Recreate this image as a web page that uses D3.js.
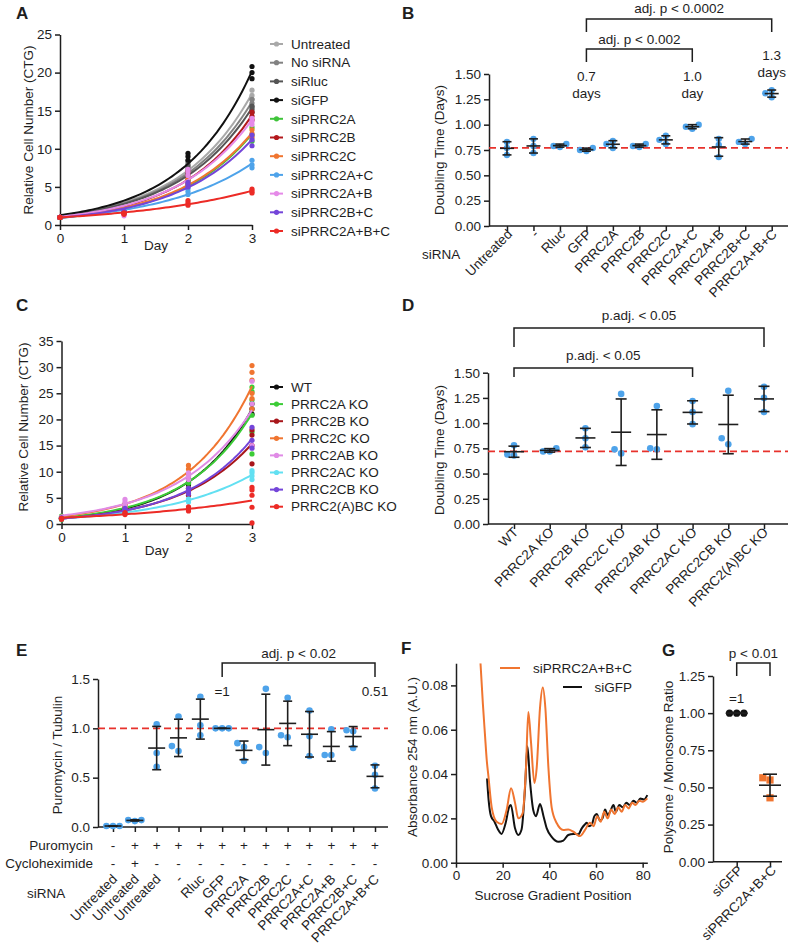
<!DOCTYPE html>
<html>
<head>
<meta charset="utf-8">
<script src="https://cdn.jsdelivr.net/npm/d3@7"></script>
<style>
  body { margin: 0; background: #fff; }
  text { font-family: "Liberation Sans", Arial, Helvetica, sans-serif; fill: #1e1e1e; }
</style>
</head>
<body>
<div id="drawing"></div>
<script>
const width = 794;
const height = 951;
const FONT = '"Liberation Sans", Arial, Helvetica, sans-serif';
const INK = "#1e1e1e";
const FS = 13.5;

// ---------- A : growth curves, siRNA ----------
const aNames = ["Untreated", "No siRNA", "siRluc", "siGFP", "siPRRC2A", "siPRRC2B", "siPRRC2C",
  "siPRRC2A+C", "siPRRC2A+B", "siPRRC2B+C", "siPRRC2A+B+C"];
const aColors = ["#a9a9a9", "#828282", "#555555", "#111111", "#3fc43a", "#b3191c", "#f07530",
  "#4ea3ea", "#e58ae8", "#7445d9", "#ec2b26"];
const aDays = [0, 1, 2, 3];
const aDay0 = [[1, 1, 1], [1, 1, 1], [1, 1, 1], [1, 1, 1], [1, 1, 1], [1, 1, 1], [1, 1, 1], [1, 1, 1], [1, 1, 1], [1, 1, 1], [1, 1, 1]];
const aDay1 = [[2.0, 2.1, 2.2], [2.0, 2.1, 2.2], [1.9, 2.0, 2.1], [2.1, 2.2, 2.3], [1.5, 1.7, 1.8], [1.7, 1.8, 1.9],
  [1.7, 1.8, 1.9], [1.5, 1.6, 1.7], [1.2, 1.4, 1.6], [1.6, 1.7, 1.8], [1.4, 1.5, 1.6]];
const aDay2 = [[7.5, 8.0, 8.5], [7.0, 7.5, 8.2], [6.8, 7.2, 7.8], [8.5, 9.0, 9.4], [5.2, 5.5, 5.8], [6.0, 6.5, 7.0],
  [5.3, 5.6, 6.0], [4.0, 4.4, 4.8], [6.5, 7.0, 7.3], [5.0, 5.3, 5.6], [2.6, 2.9, 3.2]];
const aDay3 = [[16.5, 17.0, 17.7], [15.5, 16.0, 16.5], [14.8, 15.2, 15.6], [19.2, 20.0, 20.8], [11.0, 11.8, 12.8],
  [13.8, 14.3, 14.8], [11.5, 12.0, 12.5], [7.5, 7.9, 8.5], [13.2, 13.6, 14.0], [10.4, 11.2, 11.8], [4.2, 4.4, 4.7]];
const aTicks = [0, 5, 10, 15, 20, 25];

// ---------- B : doubling time, siRNA ----------
const bCats = ["Untreated", "-", "Rluc", "GFP", "PRRC2A", "PRRC2B", "PRRC2C", "PRRC2A+C", "PRRC2A+B", "PRRC2B+C", "PRRC2A+B+C"];
const bVals = [[0.70, 0.77, 0.83], [0.72, 0.79, 0.86], [0.78, 0.79, 0.81], [0.74, 0.75, 0.77], [0.77, 0.81, 0.84],
  [0.78, 0.79, 0.81], [0.81, 0.85, 0.89], [0.96, 0.98, 1.00], [0.68, 0.80, 0.86], [0.81, 0.83, 0.86], [1.27, 1.31, 1.34]];
const bRef = 0.77;
const bTicks = [0, 0.25, 0.5, 0.75, 1.0, 1.25, 1.5];

// ---------- C : growth curves, knockouts ----------
const cNames = ["WT", "PRRC2A KO", "PRRC2B KO", "PRRC2C KO", "PRRC2AB KO", "PRRC2AC KO", "PRRC2CB KO", "PRRC2(A)BC KO"];
const cColors = ["#111111", "#3ccc37", "#a8161b", "#f07530", "#e08be6", "#62e0f2", "#7445d9", "#ec2b26"];
const cDay0 = [[1.0, 1.1, 1.2], [0.8, 1.2, 1.5], [1.0, 1.1, 1.2], [1.0, 1.2, 1.3], [1.0, 1.1, 1.3], [0.9, 1.0, 1.1], [1.0, 1.1, 1.2], [0.9, 1.0, 1.1]];
const cDay1 = [[2.8, 3.0, 3.2], [2.8, 3.3, 3.8], [2.5, 2.8, 3.0], [3.2, 3.5, 3.8], [3.5, 4.2, 4.7], [2.0, 2.3, 2.6], [2.5, 2.8, 3.0], [1.8, 2.0, 2.2]];
const cDay2 = [[7.5, 8.0, 8.5], [6.8, 7.8, 9.2], [5.5, 6.2, 6.8], [9.5, 10.5, 11.2], [8.5, 9.2, 9.8], [4.2, 4.5, 4.8], [5.8, 6.3, 6.8], [2.5, 3.0, 3.3]];
const cDay3 = [[21, 22, 23], [13.4, 17.6, 20.8, 23.7, 25.3, 26.2], [11.5, 15, 17, 18], [22, 24, 25, 27.5, 29, 30.3],
  [15, 23, 27.3], [8.5, 9.2, 9.8, 10.2], [14.5, 16, 18.5], [0.2, 3.2, 5.5, 6.5, 7]];
const cTicks = [0, 5, 10, 15, 20, 25, 30, 35];

// ---------- D : doubling time, knockouts ----------
const dCats = ["WT", "PRRC2A KO", "PRRC2B KO", "PRRC2C KO", "PRRC2AB KO", "PRRC2AC KO", "PRRC2CB KO", "PRRC2(A)BC KO"];
const dVals = [[0.68, 0.69, 0.78], [0.72, 0.72, 0.75], [0.76, 0.85, 0.95], [0.70, 0.74, 1.29], [0.74, 0.75, 1.17],
  [0.99, 1.11, 1.22], [0.79, 0.85, 1.32], [1.11, 1.25, 1.36]];
const dRef = 0.72;

// ---------- E : puromycin incorporation ----------
const eCats = ["Untreated", "Untreated", "Untreated", "-", "Rluc", "GFP", "PRRC2A", "PRRC2B", "PRRC2C",
  "PRRC2A+C", "PRRC2A+B", "PRRC2B+C", "PRRC2A+B+C"];
const ePuro = ["-", "+", "+", "+", "+", "+", "+", "+", "+", "+", "+", "+", "+"];
const eChx = ["-", "+", "-", "-", "-", "-", "-", "-", "-", "-", "-", "-", "-"];
const eVals = [[0.01, 0.01, 0.01], [0.06, 0.07, 0.07], [0.61, 0.75, 1.04], [0.77, 0.82, 1.12], [0.93, 1.03, 1.32],
  [1.0, 1.0, 1.0], [0.67, 0.81, 0.85], [0.75, 0.81, 1.40], [0.91, 0.93, 1.31], [0.72, 0.92, 1.18],
  [0.73, 0.73, 0.99], [0.80, 0.97, 0.98], [0.39, 0.53, 0.62]];
const eRef = 1.0;
const eTicks = [0, 0.5, 1.0, 1.5];

// ---------- F : polysome profiles ----------
const fOrangePos = [10.5, 11.5, 12.4, 13.2, 13.9, 15.3, 17.4, 19.6, 21.7, 23.6, 25.3, 26.7, 28.6, 30.0, 31.0, 32.1,
  33.6, 34.6, 36.0, 37.2, 38.3, 39.6, 41.0, 43.2, 46.0, 48.1, 50.3, 53.1, 55.3, 57.4, 59, 60.5, 62, 63.5, 65,
  66.5, 68, 69.5, 71, 72.5, 74, 75.5, 77, 78.5, 80, 82];
const fOrangeVal = [0.090, 0.072, 0.058, 0.046, 0.039, 0.025, 0.0185, 0.0175, 0.0238, 0.0336, 0.027, 0.020, 0.0224,
  0.043, 0.068, 0.055, 0.036, 0.043, 0.0698, 0.079, 0.0698, 0.043, 0.025, 0.0178, 0.0148, 0.015, 0.014, 0.012,
  0.0148, 0.018, 0.0165, 0.021, 0.0185, 0.023, 0.020, 0.024, 0.022, 0.025, 0.023, 0.026, 0.0245, 0.027, 0.026,
  0.028, 0.0275, 0.029];
const fBlackPos = [13.3, 14.0, 15.0, 16.5, 18.0, 19.5, 21.3, 22.9, 23.5, 25.3, 26.7, 28.1, 29.6, 30.6, 31.7, 33.1,
  34.3, 36.0, 37.5, 38.9, 41.0, 43.9, 46.0, 48.1, 50.3, 52.4, 53.9, 55.0, 56.0, 57.0, 58.1, 59.3, 60.3, 61.7,
  62.8, 63.9, 65, 66, 67.5, 68.5, 70, 71.5, 73, 74.5, 76, 77.5, 79, 80.5, 82];
const fBlackVal = [0.038, 0.028, 0.021, 0.0185, 0.015, 0.013, 0.018, 0.0255, 0.026, 0.0155, 0.0125, 0.015, 0.034,
  0.0525, 0.037, 0.0238, 0.021, 0.0265, 0.021, 0.0155, 0.0117, 0.0095, 0.010, 0.0125, 0.013, 0.0128, 0.0155,
  0.017, 0.018, 0.0165, 0.017, 0.021, 0.022, 0.019, 0.020, 0.024, 0.0215, 0.023, 0.026, 0.023, 0.026, 0.025,
  0.027, 0.026, 0.028, 0.027, 0.029, 0.0285, 0.0305];
const fXTicks = [0, 20, 40, 60, 80];
const fYTicks = [0, 0.02, 0.04, 0.06, 0.08];

// ---------- G : polysome / monosome ratio ----------
const gCats = ["siGFP", "siPRRC2A+B+C"];
const gVals = [[1.0, 1.0, 1.0], [0.43, 0.55, 0.565]];
const gTicks = [0, 0.25, 0.5, 0.75, 1.0, 1.25];

const blue = "#4ea3ea";
const orange = "#f07530";
const redDash = "#e8322c";

let svg;

function setup() {
  svg = d3.select("#drawing").append("svg")
    .attr("width", width)
    .attr("height", height)
    .style("background", "#fff");
}

// ---- small helpers ----
function txt(x, y, s, anchor = "middle", size = FS, weight = "normal") {
  return svg.append("text")
    .attr("x", x).attr("y", y)
    .attr("dy", "0.35em")
    .attr("text-anchor", anchor)
    .attr("font-size", size)
    .attr("font-weight", weight)
    .text(s);
}

function panelLetter(x, y, s) {
  svg.append("text").attr("x", x).attr("y", y)
    .attr("font-size", 17).attr("font-weight", "bold").text(s);
}

function yTitle(x, y, s) {
  svg.append("text")
    .attr("transform", `translate(${x},${y}) rotate(-90)`)
    .attr("dy", "0.35em")
    .attr("text-anchor", "middle")
    .attr("font-size", FS)
    .text(s);
}

function styleAxis(g) {
  g.attr("font-family", FONT).attr("font-size", FS);
  g.selectAll("path, line").attr("stroke", INK).attr("stroke-width", 1.5);
  g.selectAll("text").attr("fill", INK);
}

function hline(x1, x2, y) {
  svg.append("line").attr("x1", x1).attr("x2", x2).attr("y1", y).attr("y2", y)
    .attr("stroke", INK).attr("stroke-width", 1.5);
}

function bracket(xa, xb, yLine, yEnd, label, yText) {
  svg.append("path")
    .attr("d", `M${xa},${yEnd}V${yLine}H${xb}V${yEnd}`)
    .attr("fill", "none").attr("stroke", INK).attr("stroke-width", 1.5);
  txt((xa + xb) / 2, yText, label);
}

// spread overlapping dots sideways, like Prism scatter
function swarm(vals, y, r) {
  const placed = [];
  const order = vals.slice().sort((a, b) => a - b);
  order.forEach(v => {
    const py = y(v);
    const cands = [0, -2 * r, 2 * r, -4 * r, 4 * r];
    let dx = 0;
    for (const c of cands) {
      if (placed.every(q => Math.hypot(q.dx - c, q.py - py) >= 2 * r - 0.5)) { dx = c; break; }
    }
    placed.push({ v, dx, py });
  });
  return placed;
}

// exponential growth fit y = y0 * exp(k t), least squares on the raw values
function fitExp(pts) {
  let best = { sse: Infinity, k: 0, y0: 1 };
  for (let k = 0; k <= 2; k += 0.001) {
    let a = 0, b = 0;
    pts.forEach(p => { const e = Math.exp(k * p.t); a += p.v * e; b += e * e; });
    const y0 = a / b;
    let sse = 0;
    pts.forEach(p => { const d = y0 * Math.exp(k * p.t) - p.v; sse += d * d; });
    if (sse < best.sse) best = { sse, k, y0 };
  }
  return best;
}

// ---- growth curve panels (A, C) ----
function growthPanel(o) {
  const x = d3.scaleLinear().domain([0, 3]).range([o.x0, o.x1]);
  const y = d3.scaleLinear().domain([0, o.yMax]).range([o.yB, o.yT]);

  svg.append("g").attr("transform", `translate(0,${o.yB})`)
    .call(d3.axisBottom(x).tickValues(aDays).tickFormat(d3.format("d")).tickSize(5).tickSizeOuter(0))
    .call(styleAxis);
  svg.append("g").attr("transform", `translate(${o.x0},0)`)
    .call(d3.axisLeft(y).tickValues(o.ticks).tickSize(5).tickSizeOuter(0))
    .call(styleAxis);

  const tGrid = d3.range(0, 3.0001, 0.05);
  const line = d3.line().x(d => x(d.t)).y(d => y(d.v));

  o.names.forEach((name, i) => {
    const pts = [];
    o.reps.forEach((day, t) => day[i].forEach(v => pts.push({ t: aDays[t], v })));
    const fit = fitExp(pts);
    const curve = tGrid.map(t => ({ t, v: fit.y0 * Math.exp(fit.k * t) }));

    svg.append("g").selectAll("circle")
      .data(pts).enter().append("circle")
      .attr("cx", d => x(d.t)).attr("cy", d => y(d.v))
      .attr("r", 2.6).attr("fill", o.colors[i]);

    svg.append("path").datum(curve)
      .attr("d", line).attr("fill", "none")
      .attr("stroke", o.colors[i]).attr("stroke-width", 2);

    // legend row
    const ly = o.legY + i * o.legDy;
    svg.append("line").attr("x1", o.legX).attr("x2", o.legX + 13).attr("y1", ly).attr("y2", ly)
      .attr("stroke", o.colors[i]).attr("stroke-width", 2);
    svg.append("circle").attr("cx", o.legX + 6.5).attr("cy", ly).attr("r", 2.6).attr("fill", o.colors[i]);
    txt(o.legX + 21, ly, name, "start");
  });

  txt((o.x0 + o.x1) / 2, o.dayY, "Day");
  yTitle(o.titleX, o.titleY, "Relative Cell Number (CTG)");
}

// ---- dot + mean/SD panels (B, D, E, G) ----
function dotPanel(o) {
  const idx = d3.range(o.cats.length);
  const x = d3.scalePoint().domain(idx).range([o.x0, o.x1]);
  const y = d3.scaleLinear().domain([0, o.yMax]).range([o.yB, o.yT]);

  svg.append("g").attr("transform", `translate(${o.axisL},0)`)
    .call(d3.axisLeft(y).tickValues(o.ticks).tickFormat(d3.format(o.fmt)).tickSize(5).tickSizeOuter(0))
    .call(styleAxis);
  const gx = svg.append("g").attr("transform", `translate(0,${o.yB})`)
    .call(d3.axisBottom(x).tickSize(5).tickSizeOuter(0).tickFormat(""))
    .call(styleAxis);
  gx.select(".domain").remove();
  hline(o.axisL, o.axisR, o.yB);

  if (o.ref != null) {
    svg.append("line")
      .attr("x1", o.axisL).attr("x2", o.axisR)
      .attr("y1", y(o.ref)).attr("y2", y(o.ref))
      .attr("stroke", redDash).attr("stroke-width", 1.8)
      .attr("stroke-dasharray", "7,4");
  }

  idx.forEach(i => {
    const vals = o.vals[i];
    const cx = x(i);
    const col = o.colors ? o.colors[i] : blue;
    const shape = o.shapes ? o.shapes[i] : "circle";
    const dots = swarm(vals, y, o.r);

    if (shape === "square") {
      svg.append("g").selectAll("rect").data(dots).enter().append("rect")
        .attr("x", d => cx + d.dx - o.r).attr("y", d => d.py - o.r)
        .attr("width", 2 * o.r).attr("height", 2 * o.r).attr("fill", col);
    } else {
      svg.append("g").selectAll("circle").data(dots).enter().append("circle")
        .attr("cx", d => cx + d.dx).attr("cy", d => d.py)
        .attr("r", o.r).attr("fill", col);
    }

    const m = d3.mean(vals);
    const sd = d3.deviation(vals) || 0;
    const eb = svg.append("g").attr("stroke", INK).attr("stroke-width", 1.6);
    eb.append("line").attr("x1", cx).attr("x2", cx).attr("y1", y(m - sd)).attr("y2", y(m + sd));
    eb.append("line").attr("x1", cx - o.capHalf).attr("x2", cx + o.capHalf).attr("y1", y(m - sd)).attr("y2", y(m - sd));
    eb.append("line").attr("x1", cx - o.capHalf).attr("x2", cx + o.capHalf).attr("y1", y(m + sd)).attr("y2", y(m + sd));
    eb.append("line").attr("x1", cx - o.meanHalf).attr("x2", cx + o.meanHalf).attr("y1", y(m)).attr("y2", y(m));
  });

  // rotated category labels
  if (o.labelY != null) {
    idx.forEach(i => {
      svg.append("text")
        .attr("transform", `translate(${x(i) + o.labelDx},${o.labelY}) rotate(-45)`)
        .attr("text-anchor", "end")
        .attr("font-size", FS)
        .text(o.cats[i]);
    });
  }
  return { x, y };
}

function make() {
  // ===== A =====
  panelLetter(16, 19, "A");
  growthPanel({
    names: aNames, colors: aColors, reps: [aDay0, aDay1, aDay2, aDay3],
    x0: 60, x1: 252, yB: 225, yT: 34.5, yMax: 25, ticks: aTicks,
    legX: 270, legY: 44, legDy: 18.7, dayY: 245, titleX: 28, titleY: 130
  });

  // ===== B =====
  panelLetter(402, 19, "B");
  const b = dotPanel({
    cats: bCats, vals: bVals, x0: 507, x1: 771.7, axisL: 489, axisR: 788,
    yB: 226, yT: 74, yMax: 1.5, ticks: bTicks, fmt: ".2f", ref: bRef,
    r: 3.2, meanHalf: 7, capHalf: 4.5, labelY: 235, labelDx: 6
  });
  yTitle(439, 150, "Doubling Time (Days)");
  txt(422, 254, "siRNA", "start");
  bracket(b.x(3), b.x(10), 19, 32, "adj. p < 0.0002", 8);
  bracket(b.x(3), b.x(7), 49, 62, "adj. p < 0.002", 39);
  txt(b.x(3), 76, "0.7"); txt(b.x(3), 93, "days");
  txt(b.x(7), 76, "1.0"); txt(b.x(7), 93, "day");
  txt(b.x(10), 55, "1.3"); txt(b.x(10), 72, "days");

  // ===== C =====
  panelLetter(16, 311, "C");
  growthPanel({
    names: cNames, colors: cColors, reps: [cDay0, cDay1, cDay2, cDay3],
    x0: 61.5, x1: 252, yB: 524, yT: 341, yMax: 35, ticks: cTicks,
    legX: 270, legY: 387, legDy: 17.1, dayY: 550, titleX: 23, titleY: 427
  });

  // ===== D =====
  panelLetter(402, 311, "D");
  const dd = dotPanel({
    cats: dCats, vals: dVals, x0: 514, x1: 764, axisL: 488, axisR: 788,
    yB: 524, yT: 372.7, yMax: 1.5, ticks: bTicks, fmt: ".2f", ref: dRef,
    r: 3.3, meanHalf: 10, capHalf: 5.5, labelY: 533, labelDx: 5
  });
  yTitle(439, 450, "Doubling Time (Days)");
  bracket(dd.x(0), dd.x(7), 328, 347, "p.adj. < 0.05", 315);
  bracket(dd.x(0), dd.x(5), 368, 377, "p.adj. < 0.05", 355);

  // ===== E =====
  panelLetter(16, 656, "E");
  const e = dotPanel({
    cats: eCats, vals: eVals, x0: 113, x1: 375, axisL: 98, axisR: 388,
    yB: 827, yT: 679, yMax: 1.5, ticks: eTicks, fmt: ".1f", ref: eRef,
    r: 3.3, meanHalf: 8.5, capHalf: 4.5, labelY: 880, labelDx: 5
  });
  yTitle(57, 755, "Puromycin / Tubulin");
  txt(93, 845, "Puromycin", "end");
  txt(93, 863, "Cycloheximide", "end");
  txt(27, 893, "siRNA", "start");
  ePuro.forEach((s, i) => txt(e.x(i), 845, s));
  eChx.forEach((s, i) => txt(e.x(i), 863, s));
  bracket(e.x(5), e.x(12), 663, 677, "adj. p < 0.02", 653);
  txt(e.x(5), 691, "=1");
  txt(e.x(12), 691, "0.51");

  // ===== F =====
  panelLetter(401, 654, "F");
  const fx = d3.scaleLinear().domain([0, 82]).range([456, 456 + 82 * 2.3333]);
  const fy = d3.scaleLinear().domain([0, 0.09]).range([862.7, 862.7 - 0.09 * 2216.3]);
  svg.append("g").attr("transform", "translate(0,862.7)")
    .call(d3.axisBottom(fx).tickValues(fXTicks).tickSize(5).tickSizeOuter(0))
    .call(styleAxis);
  svg.append("g").attr("transform", "translate(456,0)")
    .call(d3.axisLeft(fy).tickValues(fYTicks).tickFormat(d3.format(".2f")).tickSize(5).tickSizeOuter(0))
    .call(styleAxis);
  svg.append("clipPath").attr("id", "fclip").append("rect")
    .attr("x", 456).attr("y", fy(0.09)).attr("width", 200).attr("height", 862.7 - fy(0.09));
  const fLine = d3.line().x(d => fx(d[0])).y(d => fy(d[1])).curve(d3.curveMonotoneX);
  svg.append("path").datum(d3.zip(fBlackPos, fBlackVal))
    .attr("d", fLine).attr("fill", "none").attr("stroke", "#111").attr("stroke-width", 2)
    .attr("clip-path", "url(#fclip)");
  svg.append("path").datum(d3.zip(fOrangePos, fOrangeVal))
    .attr("d", fLine).attr("fill", "none").attr("stroke", orange).attr("stroke-width", 2)
    .attr("clip-path", "url(#fclip)");
  svg.append("line").attr("x1", 500).attr("x2", 520).attr("y1", 668).attr("y2", 668)
    .attr("stroke", orange).attr("stroke-width", 2);
  txt(632, 668, "siPRRC2A+B+C", "end");
  svg.append("line").attr("x1", 563).attr("x2", 582).attr("y1", 687).attr("y2", 687)
    .attr("stroke", "#111").attr("stroke-width", 2);
  txt(632, 687, "siGFP", "end");
  txt(553, 895, "Sucrose Gradient Position");
  yTitle(412, 757, "Absorbance 254 nm (A.U.)");

  // ===== G =====
  panelLetter(662, 656, "G");
  const g = dotPanel({
    cats: gCats, vals: gVals, x0: 736.7, x1: 770, axisL: 713, axisR: 782,
    yB: 861.7, yT: 676, yMax: 1.25, ticks: gTicks, fmt: ".2f", ref: null,
    colors: ["#111111", orange], shapes: ["circle", "square"],
    r: 3.6, meanHalf: 11, capHalf: 7, labelY: 871, labelDx: 7
  });
  yTitle(668, 767, "Polysome / Monosome Ratio");
  bracket(g.x(0), g.x(1), 663, 676, "p < 0.01", 653);
  txt(g.x(0), 698, "=1");
}

setup();
make();
</script>
</body>
</html>
